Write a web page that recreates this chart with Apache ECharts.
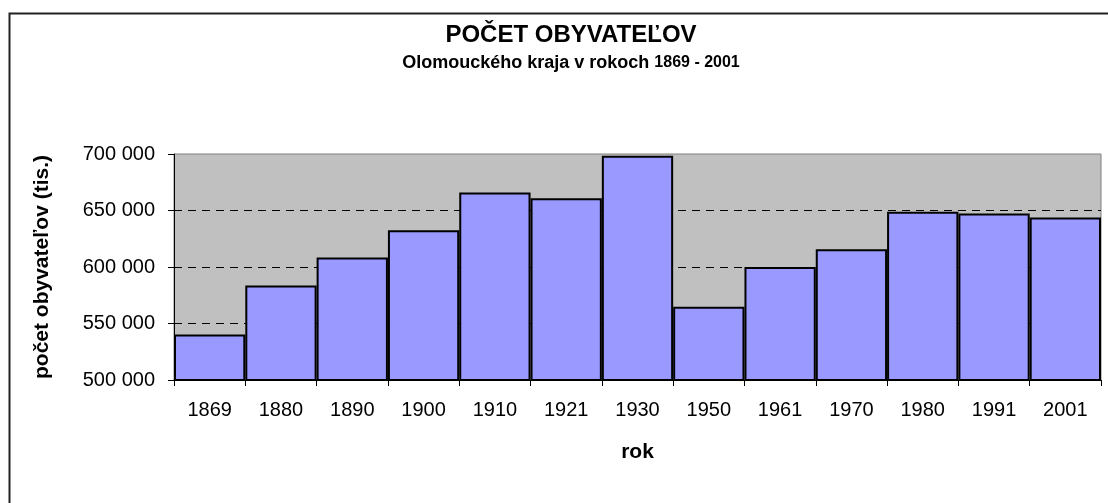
<!DOCTYPE html>
<html>
<head>
<meta charset="utf-8">
<script src="https://cdn.jsdelivr.net/npm/echarts@6/dist/echarts.min.js"></script>
<style>
  html, body { margin: 0; padding: 0; background: #ffffff; }
  #chart { width: 1108px; height: 503px; }
</style>
</head>
<body>
<div id="chart"></div>
<script>
// roky sčítania
const years = ['1869', '1880', '1890', '1900', '1910', '1921', '1930', '1950', '1961', '1970', '1980', '1991', '2001'];
// počet obyvateľov (odčítané z grafu)
const population = [540300, 583600, 608500, 632600, 665900, 660900, 698400, 564900, 600100, 615600, 648800, 647300, 643800];
// os y
const yMin = 500000;
const yMax = 700000;
const yStep = 50000;

const font = 'Liberation Sans, Arial, sans-serif';

const chart = echarts.init(document.getElementById('chart'));

const option = {
  backgroundColor: '#ffffff',
  animation: false,
  textStyle: { fontFamily: font },
  title: [
    {
      text: 'POČET OBYVATEĽOV',
      left: 566,
      textAlign: 'center',
      top: 18,
      textStyle: { fontFamily: font, fontSize: 24, fontWeight: 'bold', color: '#000' }
    },
    {
      // čísla rokov sú v podnadpise menším písmom
      text: '{a|Olomouckého kraja v rokoch }{b|1869 - 2001}',
      left: 566,
      textAlign: 'center',
      top: 49,
      textStyle: {
        fontFamily: font,
        rich: {
          a: { fontFamily: font, fontSize: 18, fontWeight: 'bold', color: '#000' },
          b: { fontFamily: font, fontSize: 16, fontWeight: 'bold', color: '#000' }
        }
      }
    }
  ],
  grid: {
    left: 174,
    right: 7,
    top: 154,
    bottom: 123,
    show: true,
    backgroundColor: '#C0C0C0',
    borderColor: '#808080',
    borderWidth: 1
  },
  // rámček okolo celého grafu
  graphic: [{
    type: 'rect',
    left: 7,
    top: 11,
    shape: { width: 1200, height: 600 },
    style: { fill: 'none', stroke: '#222', lineWidth: 2 },
    silent: true
  }],
  xAxis: {
    type: 'category',
    data: years,
    name: 'rok',
    nameLocation: 'middle',
    nameGap: 62,
    nameTextStyle: { fontFamily: font, fontSize: 21, fontWeight: 'bold', color: '#000' },
    axisLine: { lineStyle: { color: '#000', width: 1 } },
    axisTick: { show: true, length: 6, lineStyle: { color: '#000' } },
    axisLabel: { fontFamily: font, fontSize: 20, color: '#000', margin: 20 },
    splitLine: { show: false }
  },
  yAxis: {
    type: 'value',
    min: yMin,
    max: yMax,
    interval: yStep,
    name: 'počet obyvateľov (tis.)',
    nameLocation: 'middle',
    nameGap: 121,
    nameTextStyle: { fontFamily: font, fontSize: 21, fontWeight: 'bold', color: '#000' },
    axisLine: { show: true, lineStyle: { color: '#000', width: 1 } },
    axisTick: { show: true, length: 6, lineStyle: { color: '#000' } },
    axisLabel: {
      fontFamily: font,
      fontSize: 20,
      color: '#000',
      margin: 19,
      formatter: v => String(v).replace(/\B(?=(\d{3})+(?!\d))/g, ' ')
    },
    splitLine: {
      show: true,
      showMinLine: false,
      showMaxLine: false,
      lineStyle: { color: '#000', type: [8, 6], width: 1 }
    }
  },
  series: [{
    type: 'bar',
    data: population,
    barWidth: '100%',
    barCategoryGap: '0%',
    itemStyle: { color: '#9999FF', borderColor: '#000', borderWidth: 2 }
  }]
};

chart.setOption(option);
</script>
</body>
</html>
